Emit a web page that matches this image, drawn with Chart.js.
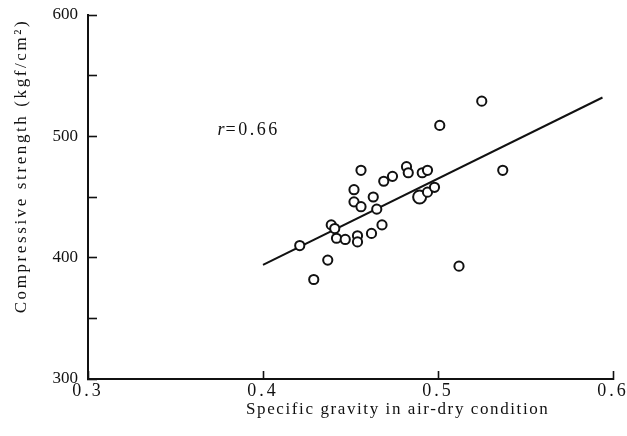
<!DOCTYPE html>
<html>
<head>
<meta charset="utf-8">
<script src="https://cdn.jsdelivr.net/npm/chart.js@4.4.1/dist/chart.umd.min.js"></script>
<style>
  html, body { margin: 0; padding: 0; background: #fff; }
  #wrap { width: 627px; height: 436px; }
</style>
</head>
<body>
<div id="wrap"><canvas id="c" width="627" height="436"></canvas></div>
<script>
// ---- Data ----
const specificGravity = [0.421, 0.429, 0.437, 0.439, 0.441, 0.442, 0.447, 0.454, 0.454, 0.452,
  0.452, 0.456, 0.456, 0.462, 0.463, 0.465, 0.468, 0.469, 0.474, 0.482,
  0.483, 0.491, 0.494, 0.494, 0.498, 0.501, 0.512, 0.525, 0.537];
const compressiveStrength = [410, 382, 398, 427, 424, 416, 415, 418, 413, 456,
  446, 442, 472, 420, 450, 440, 427, 463, 467, 475,
  470, 470, 472, 454, 458, 509, 393, 529, 472];
// one overlapping (larger) marker
const largeMarkerX = [0.4895];
const largeMarkerY = [450];
// regression line r = 0.66
const fitX = [0.400, 0.594];
const fitY = [394, 532];
const xTickLabels = ['0.3', '0.4', '0.5', '0.6'];
const yTickLabels = ['300', '400', '500', '600'];
const xTitle = 'Specific gravity in air-dry condition';
const yTitle = 'Compressive strength (kgf/cm\u00B2)';
const rLabelItalic = 'r';
const rLabelRest = '=0.66';
const rLabelAt = { x: 0.374, y: 505 };

const INK = '#111';
const SERIF = '"Liberation Serif", "DejaVu Serif", serif';

const toXY = (xs, ys) => xs.map((x, i) => ({ x: x, y: ys[i] }));

const textPlugin = {
  id: 'texts',
  beforeDraw(chart) {
    const s = chart.scales.x;
    if (s && !s._spaced) {
      const orig = s.drawLabels.bind(s);
      s.drawLabels = function (area) {
        const c = this.ctx; const prev = c.letterSpacing;
        c.letterSpacing = '3px'; orig(area); c.letterSpacing = prev;
      };
      s._spaced = true;
    }
  },
  afterDraw(chart) {
    const ctx = chart.ctx;
    const area = chart.chartArea;
    ctx.save();
    ctx.fillStyle = INK;
    // x title
    ctx.letterSpacing = '1.6px';
    ctx.font = '17px ' + SERIF;
    ctx.textAlign = 'center';
    ctx.textBaseline = 'middle';
    ctx.fillText(xTitle, area.left + (area.right - area.left) * 0.59, 410);
    // y title
    ctx.save();
    ctx.translate(22, area.top + (area.bottom - area.top) * 0.415);
    ctx.rotate(-Math.PI / 2);
    ctx.letterSpacing = '2.6px';
    ctx.fillText(yTitle, 0, 0);
    ctx.restore();
    // r label
    const px = chart.scales.x.getPixelForValue(rLabelAt.x);
    const py = chart.scales.y.getPixelForValue(rLabelAt.y);
    ctx.textAlign = 'left';
    ctx.letterSpacing = '0px';
    ctx.font = 'italic 18px ' + SERIF;
    ctx.fillText(rLabelItalic, px, py);
    const w = ctx.measureText(rLabelItalic).width;
    ctx.font = '18px ' + SERIF;
    ctx.letterSpacing = '2.5px';
    ctx.fillText(rLabelRest, px + w + 1, py);
    ctx.restore();
  }
};

new Chart(document.getElementById('c'), {
  type: 'scatter',
  data: {
    datasets: [
      {
        label: 'samples',
        data: toXY(specificGravity, compressiveStrength),
        pointRadius: 4.6,
        pointBorderWidth: 2,
        pointBorderColor: INK,
        pointBackgroundColor: '#fff',
        showLine: false,
        order: 0
      },
      {
        label: 'overlap',
        data: toXY(largeMarkerX, largeMarkerY),
        pointRadius: 6.5,
        pointBorderWidth: 2,
        pointBorderColor: INK,
        pointBackgroundColor: '#fff',
        showLine: false,
        order: 0
      },
      {
        label: 'fit',
        type: 'line',
        data: toXY(fitX, fitY),
        borderColor: INK,
        borderWidth: 2,
        pointRadius: 0,
        fill: false,
        order: 1
      }
    ]
  },
  options: {
    responsive: false,
    animation: false,
    devicePixelRatio: 1,
    layout: { padding: { top: 15, right: 14, left: 0, bottom: 0 } },
    plugins: { legend: { display: false }, tooltip: { enabled: false } },
    scales: {
      x: {
        type: 'linear',
        min: 0.3, max: 0.6,
        afterFit(scale) { scale.height = 57; scale.paddingLeft = 0; scale.paddingRight = 0; },
        afterBuildTicks(scale) {
          scale.ticks = xTickLabels.map(t => ({ value: parseFloat(t) }));
        },
        ticks: {
          color: INK,
          font: { family: SERIF, size: 18 },
          padding: 9,
          maxRotation: 0,
          autoSkip: false,
          callback: (v, i) => xTickLabels[i]
        },
        grid: { drawOnChartArea: false, tickLength: -8, tickWidth: 1.6, tickColor: INK },
        border: { display: true, color: INK, width: 2 }
      },
      y: {
        type: 'linear',
        min: 300, max: 600,
        afterFit(scale) { scale.width = 88; scale.paddingTop = 0; scale.paddingBottom = 0; },
        ticks: {
          stepSize: 50,
          color: INK,
          font: { family: SERIF, size: 17 },
          padding: 19,
          autoSkip: false,
          callback: (v) => (yTickLabels.includes(String(v)) ? String(v) : '')
        },
        grid: { drawOnChartArea: false, tickLength: -9, tickWidth: 1.6, tickColor: INK },
        border: { display: true, color: INK, width: 2 }
      }
    }
  },
  plugins: [textPlugin]
});
</script>
</body>
</html>
